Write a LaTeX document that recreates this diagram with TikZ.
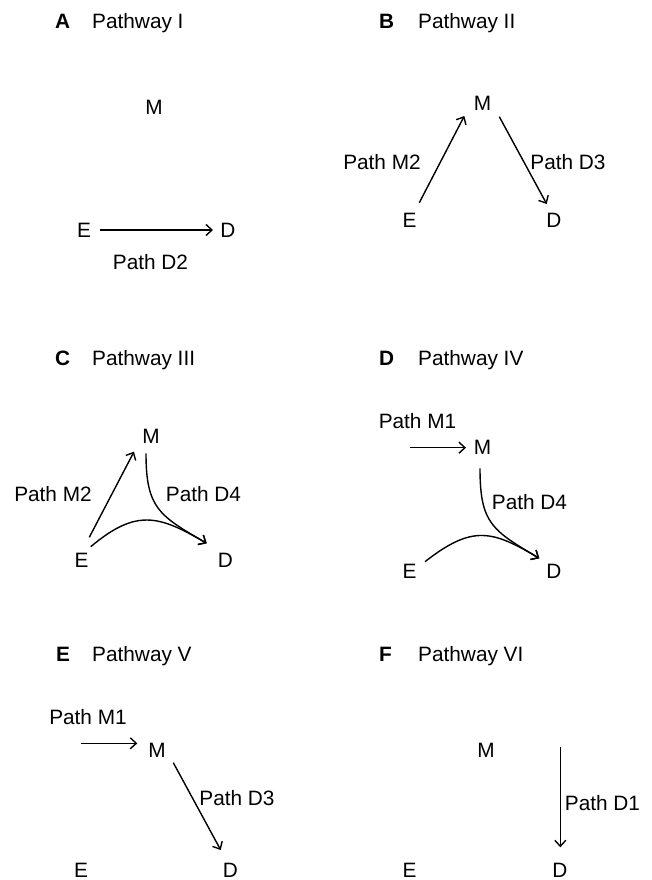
\documentclass[tikz,border=0pt]{standalone}
\usepackage{fontspec}
\setmainfont{Liberation Sans}
\usetikzlibrary{arrows.meta}
\tikzset{
  lbl/.style={inner sep=0pt, font=\fontsize{20.8}{25}\selectfont},
  ttl/.style={anchor=base west, inner sep=0pt, font=\fontsize{20.8}{25}\selectfont},
  ttlletter/.style={anchor=base west, inner sep=0pt, font=\fontsize{20.8}{25}\selectfont\bfseries},
  conn/.style={line width=1.4pt, -{Straight Barb[length=6pt,width=11pt]}}
}
\begin{document}
\begin{tikzpicture}[x=1pt,y=-1pt]
\useasboundingbox (0,0) rectangle (652,880);
% ---------- A ----------
\node[ttlletter] (tA) at (55,28.3) {A};
\node[ttl] (tAt) at (92,28.3) {Pathway I};
\node[lbl] (AM) at (154,107) {M};
\node[lbl] (AE) at (84,230) {E};
\node[lbl] (AD) at (228,230) {D};
\draw[conn] ([shift={(16,0)}]AE.center) -- ([shift={(-15,0)}]AD.center);
\node[lbl] (AL) at (150.5,262) {Path D2};
% ---------- B ----------
\node[ttlletter] (tB) at (379,28.3) {B};
\node[ttl] (tBt) at (418,28.3) {Pathway II};
\node[lbl] (BM) at (482.5,103) {M};
\node[lbl] (BE) at (409.5,220) {E};
\node[lbl] (BD) at (554,220) {D};
\draw[conn] ([shift={(9.8,-17.3)}]BE.center) -- ([shift={(-18.2,13)}]BM.center);
\draw[conn] ([shift={(16.8,13.7)}]BM.center) -- ([shift={(-7.3,-16)}]BD.center);
\node[lbl] (BL1) at (382,162) {Path M2};
\node[lbl] (BL2) at (568,162) {Path D3};
% ---------- C ----------
\node[ttlletter] (tC) at (55,365.3) {C};
\node[ttl] (tCt) at (92,365.3) {Pathway III};
\node[lbl] (CM) at (151,436) {M};
\node[lbl] (CE) at (81.5,560) {E};
\node[lbl] (CD) at (225.5,560) {D};
\draw[conn] ([shift={(7.8,-22.7)}]CE.center) -- ([shift={(-17,15.7)}]CM.center);
\draw[conn] ([shift={(-5,17.3)}]CM.center) .. controls (146,508.3) and (159.2,515.6) .. ([shift={(-18.8,-16.7)}]CD.center);
\draw[conn] ([shift={(9.2,-13.3)}]CE.center) .. controls (136.7,508.1) and (159.2,515.6) .. ([shift={(-18.8,-16.7)}]CD.center);
\node[lbl] (CL1) at (53,494) {Path M2};
\node[lbl] (CL2) at (203.5,494) {Path D4};
% ---------- D ----------
\node[ttlletter] (tD) at (379,365.3) {D};
\node[ttl] (tDt) at (418,365.3) {Pathway IV};
\node[lbl] (DM) at (482.5,447) {M};
\node[lbl] (DE) at (409.5,571) {E};
\node[lbl] (DD) at (554,571) {D};
\coordinate (DT) at (410,447.7);
\draw[conn] (DT) -- ([shift={(-16.5,0.7)}]DM.center);
\draw[conn] ([shift={(-2.5,21.3)}]DM.center) .. controls (480,523.3) and (492,530.2) .. ([shift={(-14.7,-12.7)}]DD.center);
\draw[conn] ([shift={(15.5,-9.3)}]DE.center) .. controls (472.3,524.7) and (492,530.2) .. ([shift={(-14.7,-12.7)}]DD.center);
\node[lbl] (DL1) at (417.5,420.7) {Path M1};
\node[lbl] (DL2) at (529.5,501.7) {Path D4};
% ---------- E ----------
\node[ttlletter] (tE) at (56,661) {E};
\node[ttl] (tEt) at (92,661) {Pathway V};
\node[lbl] (EM) at (157,750) {M};
\node[lbl] (EE) at (81,870) {E};
\node[lbl] (ED) at (230.5,870) {D};
\coordinate (ET) at (80.7,743.3);
\draw[conn] (ET) -- ([shift={(-19.7,-6.7)}]EM.center);
\draw[conn] ([shift={(16.3,12.7)}]EM.center) -- ([shift={(-9.8,-20)}]ED.center);
\node[lbl] (EL1) at (88,717) {Path M1};
\node[lbl] (EL2) at (237,798) {Path D3};
% ---------- F ----------
\node[ttlletter] (tF) at (379,661) {F};
\node[ttl] (tFt) at (418,661) {Pathway VI};
\node[lbl] (FM) at (486,750) {M};
\node[lbl] (FE) at (409.5,870) {E};
\node[lbl] (FD) at (560,870) {D};
\coordinate (FT) at (560.3,746.7);
\draw[conn] (FT) -- ([shift={(0.3,-22.7)}]FD.center);
\node[lbl] (FL1) at (602.5,803) {Path D1};
\end{tikzpicture}
\end{document}
